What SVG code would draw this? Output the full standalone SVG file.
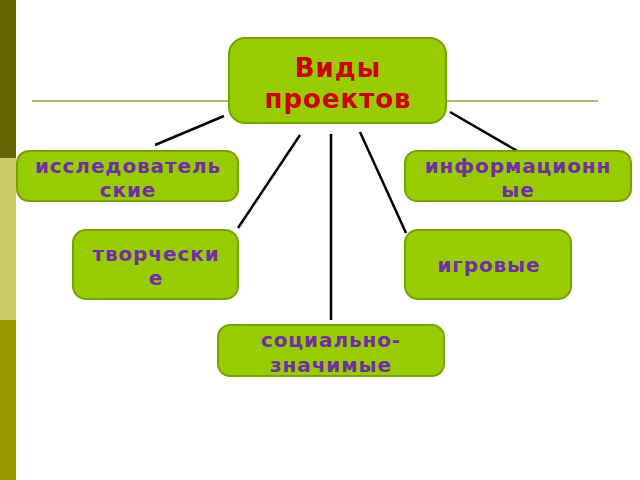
<svg xmlns="http://www.w3.org/2000/svg" width="640" height="480" viewBox="0 0 640 480">
<style>
.box{fill:#99cc00;stroke:#76a300;stroke-width:2}
.t{font-family:"DejaVu Sans",sans-serif;font-weight:bold;font-size:20px;fill:#7030a0;text-anchor:middle;letter-spacing:0.9px}
.title{font-family:"DejaVu Sans",sans-serif;font-weight:bold;font-size:26px;fill:#cc0000;text-anchor:middle;letter-spacing:1px}
.c{stroke:#000;stroke-width:2.5;fill:none}
</style>
<rect width="640" height="480" fill="#fff"/>
<g id="sidebar">
<rect x="0" y="0" width="16" height="158" fill="#666600"/>
<rect x="0" y="158" width="16" height="162" fill="#cccc66"/>
<rect x="0" y="320" width="16" height="160" fill="#999900"/>
</g>
<line x1="32" y1="101" x2="598" y2="101" stroke="#a0a040" stroke-width="1.5"/>
<g id="connectors">
<line class="c" x1="224" y1="116" x2="155" y2="145"/>
<line class="c" x1="450" y1="112" x2="519" y2="152"/>
<line class="c" x1="300" y1="135" x2="238" y2="228"/>
<line class="c" x1="331" y1="134" x2="331" y2="320"/>
<line class="c" x1="360" y1="132" x2="406" y2="233"/>
</g>
<g id="center">
<rect class="box" x="229" y="38" width="217" height="85" rx="16"/>
<text class="title" x="338" y="77">Виды</text>
<text class="title" x="338" y="108">проектов</text>
</g>
<g id="research">
<rect class="box" x="17" y="151" width="221" height="50" rx="12"/>
<text class="t" x="128" y="173">исследователь</text>
<text class="t" x="128" y="197">ские</text>
</g>
<g id="info">
<rect class="box" x="405" y="151" width="226" height="50" rx="12"/>
<text class="t" x="518" y="173">информационн</text>
<text class="t" x="518" y="197">ые</text>
</g>
<g id="creative">
<rect class="box" x="73" y="230" width="165" height="69" rx="13"/>
<text class="t" x="156" y="261">творчески</text>
<text class="t" x="156" y="285">е</text>
</g>
<g id="game">
<rect class="box" x="405" y="230" width="166" height="69" rx="13"/>
<text class="t" x="489" y="272">игровые</text>
</g>
<g id="social">
<rect class="box" x="218" y="325" width="226" height="51" rx="12"/>
<text class="t" x="331" y="347">социально-</text>
<text class="t" x="331" y="372">значимые</text>
</g>
</svg>
